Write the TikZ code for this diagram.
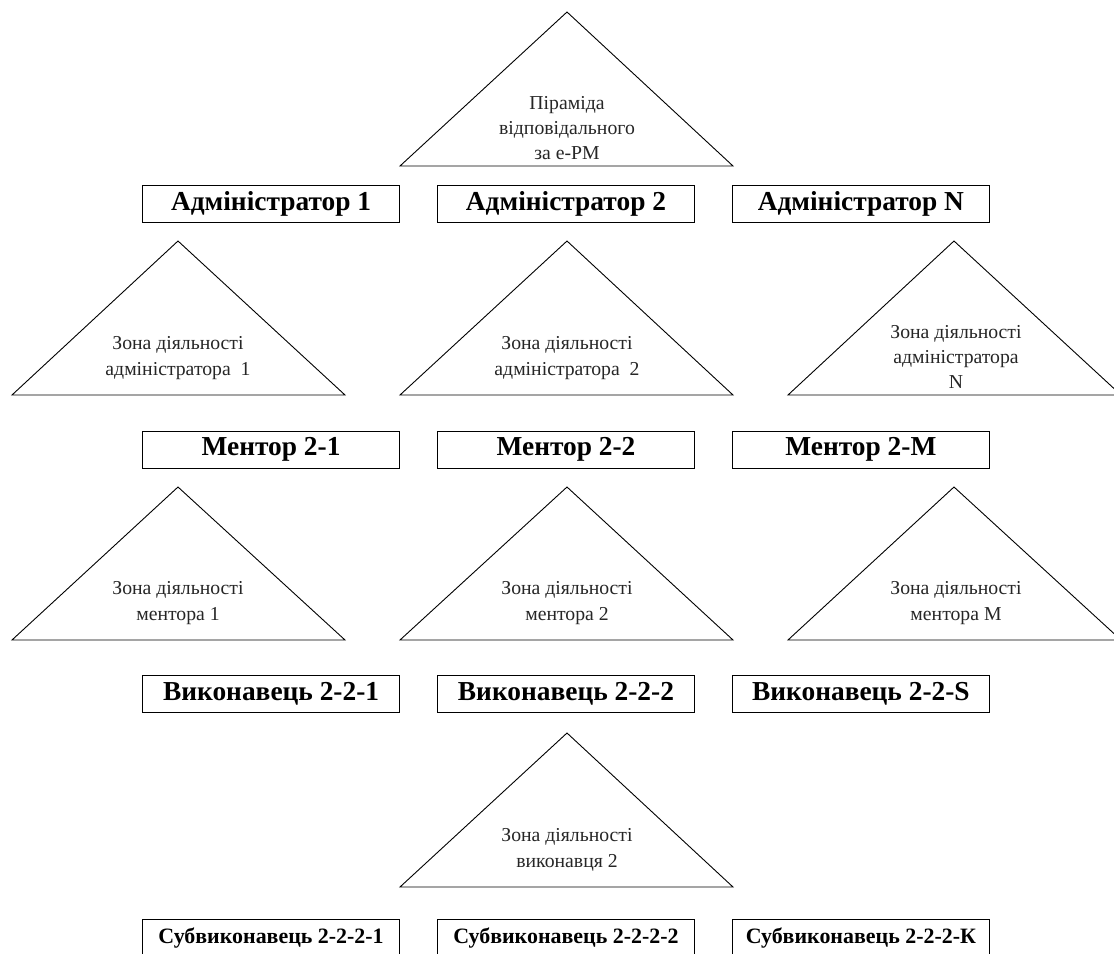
\documentclass[tikz,border=0pt]{standalone}
\usepackage{fontspec}
\setmainfont{Liberation Serif}
\usepackage{tikz}
\usetikzlibrary{positioning}
\tikzstyle{lvl}=[draw=black, line width=0.9bp, minimum width=257bp, minimum height=37bp, inner sep=0pt, font=\bfseries\fontsize{27.5}{30}\selectfont]
\tikzstyle{sublvl}=[lvl, font=\bfseries\fontsize{22}{25}\selectfont]
\tikzstyle{zone}=[draw=black, line width=0.9bp, line join=miter]
\tikzstyle{ztext}=[align=center, inner sep=0pt, text=black!85, font=\fontsize{19.8}{25.5}\selectfont]

\begin{document}
\begin{tikzpicture}
[x=1bp, y=-1bp, node distance=37bp]
 \useasboundingbox (0,0) rectangle (1114,954);
 % pyramid of the e-PM lead
 \draw[zone] (567,12) -- (733,166) -- (400,166) -- cycle;
 \node[ztext] (top) at (567,128) {Піраміда\\відповідального\\за е-РМ};
 % administrators
 \node[lvl] (a2) at (566,203.5) {Адміністратор 2};
 \node[lvl] (a1) [left=of a2] {Адміністратор 1};
 \node[lvl] (aN) [right=of a2] {Адміністратор N};
 \draw[zone] (178,241) -- (345,395) -- (12,395) -- cycle;
 \draw[zone] (567,241) -- (733,395) -- (400,395) -- cycle;
 \draw[zone] (954,241) -- (1121,395) -- (788,395) -- cycle;
 \node[ztext] (za1) at (178,358) {Зона діяльності\\адміністратора\ \ 1};
 \node[ztext] (za2) at (567,358) {Зона діяльності\\адміністратора\ \ 2};
 \node[ztext] (zaN) at (956,357) {Зона діяльності\\адміністратора\\N};
 % mentors
 \node[lvl] (m2) at (566,449.5) {Ментор 2-2};
 \node[lvl] (m1) [left=of m2] {Ментор 2-1};
 \node[lvl] (mM) [right=of m2] {Ментор 2-М};
 \draw[zone] (178,487) -- (345,640) -- (12,640) -- cycle;
 \draw[zone] (567,487) -- (733,640) -- (400,640) -- cycle;
 \draw[zone] (954,487) -- (1121,640) -- (788,640) -- cycle;
 \node[ztext] (zm1) at (178,603) {Зона діяльності\\ментора 1};
 \node[ztext] (zm2) at (567,603) {Зона діяльності\\ментора 2};
 \node[ztext] (zmM) at (956,603) {Зона діяльності\\ментора М};
 % executors
 \node[lvl] (e2) at (566,693.5) {Виконавець 2-2-2};
 \node[lvl] (e1) [left=of e2] {Виконавець 2-2-1};
 \node[lvl] (eS) [right=of e2] {Виконавець 2-2-S};
 \draw[zone] (567,733) -- (733,887) -- (400,887) -- cycle;
 \node[ztext] (ze2) at (567,850) {Зона діяльності\\виконавця 2};
 % sub-executors
 \node[sublvl] (s2) at (566,938) {Субвиконавець 2-2-2-2};
 \node[sublvl] (s1) [left=of s2] {Субвиконавець 2-2-2-1};
 \node[sublvl] (sK) [right=of s2] {Субвиконавець 2-2-2-К};
\end{tikzpicture}
\end{document}
